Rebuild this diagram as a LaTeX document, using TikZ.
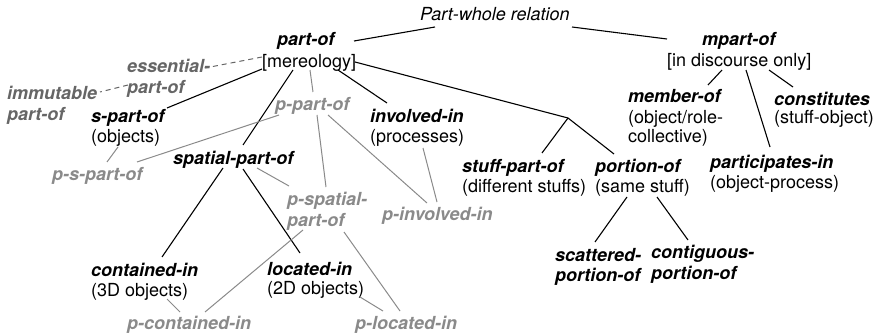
\documentclass[tikz,border=0pt]{standalone}
\usepackage{fontspec}
\setmainfont{TeX Gyre Heros}
\definecolor{dg}{HTML}{666666}
\definecolor{lg}{HTML}{8A8A8A}
\tikzset{
  lab/.style={anchor=base west, inner sep=0pt, font=\fontsize{18}{21}\selectfont},
  ital/.style={lab, font=\fontsize{18}{21}\selectfont\itshape},
  head/.style={lab, font=\fontsize{18}{21}\selectfont\bfseries\itshape},
  phead/.style={head, text=lg},
  ehead/.style={head, text=dg},
  blk/.style={draw=black, line width=1.1pt},
  gry/.style={draw=lg, line width=1pt},
  dsh/.style={draw=dg, line width=1pt, dash pattern=on 5pt off 4pt},
}
\begin{document}
\begin{tikzpicture}[x=1pt,y=-1pt]
\useasboundingbox (0,0) rectangle (876,334);
% nodes
\node[ital] (pw) at (420,21) {Part-whole relation};
\node[head] (po) at (277,46) {part-of};
\node[lab] (mer) at (262,68) {[mereology]};
\node[head] (mpo) at (702,46) {mpart-of};
\node[lab] (disc) at (667,67) {[in discourse only]};
\node[ehead] (ess) at (127,73) {essential-};
\node[ehead] (ess2) at (127,94) {part-of};
\node[ehead] (imm) at (7,100) {immutable};
\node[ehead] (imm2) at (7,121) {part-of};
\node[head] (spo) at (91,123) {s-part-of};
\node[lab] (spo2) at (91,143) {(objects)};
\node[head] (spat) at (173,165) {spatial-part-of};
\node[phead] (ppo) at (275,111) {p-part-of};
\node[phead] (pspo) at (52,181) {p-s-part-of};
\node[head] (inv) at (370,123) {involved-in};
\node[lab] (inv2) at (370,143) {(processes)};
\node[head] (stp) at (462,172) {stuff-part-of};
\node[lab] (stp2) at (462,193) {(different stuffs)};
\node[head] (por) at (595,172) {portion-of};
\node[lab] (por2) at (595,193) {(same stuff)};
\node[phead] (pinv) at (382,221) {p-involved-in};
\node[phead] (psp) at (287,205) {p-spatial-};
\node[phead] (psp2) at (287,226) {part-of};
\node[head] (con) at (91,276) {contained-in};
\node[lab] (con2) at (91,296) {(3D objects)};
\node[head] (loc) at (267,275) {located-in};
\node[lab] (loc2) at (267,294) {(2D objects)};
\node[phead] (pcon) at (127,329) {p-contained-in};
\node[phead] (ploc) at (355,329) {p-located-in};
\node[head] (mem) at (628,103) {member-of};
\node[lab] (mem2) at (628,124) {(object/role-};
\node[lab] (mem3) at (628,143) {collective)};
\node[head] (cst) at (774,106) {constitutes};
\node[lab] (cst2) at (774,124) {(stuff-object)};
\node[head] (par) at (710,168) {participates-in};
\node[lab] (par2) at (710,189) {(object-process)};
\node[head] (sca) at (555,261) {scattered-};
\node[head] (sca2) at (555,281) {portion-of};
\node[head] (cnt) at (651,258) {contiguous-};
\node[head] (cnt2) at (651,279) {portion-of};
\coordinate (br) at (568,118);
% connectors
\draw[blk] ([shift={(15,6)}]pw.base west) -- ([shift={(77,-5)}]po.base west);
\draw[blk] ([shift={(152,6)}]pw.base west) -- ([shift={(-35,-7)}]mpo.base west);
\draw[dsh] ([shift={(0,-11)}]mer.base west) -- ([shift={(78,-5)}]ess.base west);
\draw[dsh] ([shift={(1,-9)}]ess2.base west) -- ([shift={(93,-8)}]imm.base west);
\draw[blk] ([shift={(0,1)}]mer.base west) -- ([shift={(76,-15)}]spo.base west);
\draw[blk] ([shift={(31,2)}]mer.base west) -- ([shift={(70,-20)}]spat.base west);
\draw[gry] ([shift={(48,2)}]mer.base west) -- ([shift={(38,-19)}]ppo.base west);
\draw[blk] ([shift={(76,2)}]mer.base west) -- ([shift={(17,-20)}]inv.base west);
\draw[blk] ([shift={(93,-6)}]mer.base west) -- (br);
\draw[blk] (br) -- ([shift={(80,-19)}]stp.base west);
\draw[blk] (br) -- ([shift={(19,-18)}]por.base west);
\draw[gry] ([shift={(27,4)}]spo2.base west) -- ([shift={(55,-19)}]pspo.base west);
\draw[gry] ([shift={(4,4)}]ppo.base west) -- ([shift={(85,-19)}]pspo.base west);
\draw[gry] ([shift={(42,4)}]ppo.base west) -- ([shift={(39,-18)}]psp.base west);
\draw[gry] ([shift={(53,4)}]ppo.base west) -- ([shift={(45,-18)}]pinv.base west);
\draw[gry] ([shift={(53,5)}]inv2.base west) -- ([shift={(55,-19)}]pinv.base west);
\draw[gry] ([shift={(84,3)}]spat.base west) -- ([shift={(2,-19)}]psp.base west);
\draw[blk] ([shift={(50,3)}]spat.base west) -- ([shift={(71,-19)}]con.base west);
\draw[blk] ([shift={(70,4)}]spat.base west) -- ([shift={(33,-22)}]loc.base west);
\draw[gry] ([shift={(16,4)}]psp2.base west) -- ([shift={(78,-17)}]pcon.base west);
\draw[gry] ([shift={(57,6)}]psp2.base west) -- ([shift={(45,-18)}]ploc.base west);
\draw[gry] ([shift={(76,3)}]con2.base west) -- ([shift={(53,-17)}]pcon.base west);
\draw[gry] ([shift={(93,3)}]loc2.base west) -- ([shift={(28,-18)}]ploc.base west);
\draw[blk] ([shift={(55,3)}]disc.base west) -- ([shift={(80,-18)}]mem.base west);
\draw[blk] ([shift={(79,3)}]disc.base west) -- ([shift={(60,-21)}]par.base west);
\draw[blk] ([shift={(102,3)}]disc.base west) -- ([shift={(19,-19)}]cst.base west);
\draw[blk] ([shift={(32,4)}]por2.base west) -- ([shift={(40,-19)}]sca.base west);
\draw[blk] ([shift={(62,4)}]por2.base west) -- ([shift={(37,-18)}]cnt.base west);
\end{tikzpicture}
\end{document}
